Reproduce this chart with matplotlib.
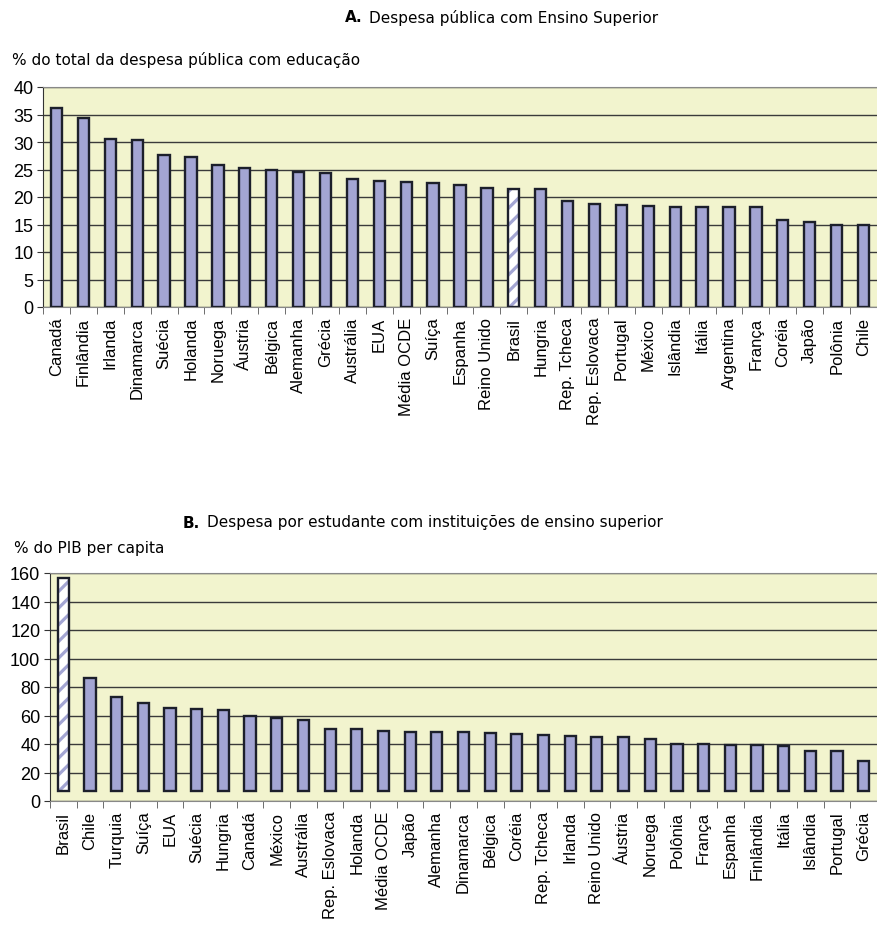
import numpy as np
import matplotlib.pyplot as plt
from matplotlib.ticker import FixedLocator

# Painel A
paises_a = ["Canadá", "Finlândia", "Irlanda", "Dinamarca", "Suécia", "Holanda", "Noruega",
            "Áustria", "Bélgica", "Alemanha", "Grécia", "Austrália", "EUA", "Média OCDE",
            "Suíça", "Espanha", "Reino Unido", "Brasil", "Hungria", "Rep. Tcheca",
            "Rep. Eslovaca", "Portugal", "México", "Islândia", "Itália", "Argentina",
            "França", "Coréia", "Japão", "Polônia", "Chile"]
valores_a = [36.1, 34.4, 30.6, 30.4, 27.6, 27.3, 25.8, 25.3, 25.0, 24.5, 24.4, 23.3, 22.9,
             22.8, 22.6, 22.2, 21.6, 21.5, 21.4, 19.3, 18.7, 18.5, 18.4, 18.2, 18.2, 18.1,
             18.1, 15.8, 15.5, 15.0, 15.0]

# Painel B
paises_b = ["Brasil", "Chile", "Turquia", "Suíça", "EUA", "Suécia", "Hungria", "Canadá",
            "México", "Austrália", "Rep. Eslovaca", "Holanda", "Média OCDE", "Japão",
            "Alemanha", "Dinamarca", "Bélgica", "Coréia", "Rep. Tcheca", "Irlanda",
            "Reino Unido", "Áustria", "Noruega", "Polônia", "França", "Espanha",
            "Finlândia", "Itália", "Islândia", "Portugal", "Grécia"]
valores_b = [156.3, 86.0, 73.1, 68.9, 65.4, 64.3, 64.0, 59.8, 57.9, 56.8, 50.5, 50.2, 48.8,
             48.6, 48.3, 48.3, 47.4, 46.7, 46.0, 45.6, 45.1, 44.9, 43.2, 40.2, 40.0, 39.3,
             39.0, 38.6, 34.8, 34.8, 27.8]

fundo = "#F2F4CE"
barra = "#A3A5D3"
borda = "#1C1F2B"
plt.rcParams['hatch.linewidth'] = 2.3

fig = plt.figure(figsize=(8.77, 9.28), dpi=100)


def painel(ax, nomes, valores, ymax, passo, base):
    x = np.arange(len(nomes))
    v = np.array(valores)
    ax.set_facecolor(fundo)
    for i, n in enumerate(nomes):
        if n == "Brasil":
            ax.bar(x[i], v[i] - base, bottom=base, width=0.42, color="white",
                   edgecolor=barra, hatch="//", linewidth=0, zorder=3)
            ax.bar(x[i], v[i] - base, bottom=base, width=0.42, color="none",
                   edgecolor=borda, linewidth=1.7, zorder=4)
        else:
            ax.bar(x[i], v[i] - base, bottom=base, width=0.42, color=barra,
                   edgecolor=borda, linewidth=1.7, zorder=3)
    ax.set_xlim(-0.5, len(nomes) - 0.5)
    ax.set_ylim(0, ymax)
    ax.set_yticks(np.arange(0, ymax + 1, passo))
    ax.yaxis.grid(True, color="#3a3a3a", linewidth=1.0, zorder=0)
    ax.set_axisbelow(True)
    ax.set_xticks(x)
    ax.set_xticklabels(nomes, rotation=90, fontsize=12, family="Liberation Sans")
    ax.tick_params(axis="x", which="major", length=0, pad=7)
    ax.xaxis.set_minor_locator(FixedLocator(np.arange(-0.5, len(nomes), 1)))
    ax.tick_params(axis="x", which="minor", length=5, color="#555555", direction="out")
    ax.tick_params(axis="y", length=4, color="#333333", labelsize=13, pad=3)
    for lab in ax.get_yticklabels():
        lab.set_family("Liberation Sans")
    ax.spines["right"].set_visible(False)
    ax.spines["top"].set_color("#888888")
    ax.spines["left"].set_color("#333333")
    ax.spines["bottom"].set_color("#888888")


ax1 = fig.add_axes([43 / 877, 1 - 308 / 928, 1 - 43 / 877, 220 / 928])
painel(ax1, paises_a, valores_a, 40, 5, 0)

ax2 = fig.add_axes([50 / 877, 1 - 802 / 928, 1 - 50 / 877, 228 / 928])
painel(ax2, paises_b, valores_b, 160, 20, 6.8)

fs_t = 11
fig.text(345 / 877, 1 - 18 / 928, "A.", ha="left", va="center", fontsize=fs_t,
         fontweight="bold", family="DejaVu Sans")
fig.text(369 / 877, 1 - 18 / 928, "Despesa pública com Ensino Superior", ha="left",
         va="center", fontsize=fs_t, family="DejaVu Sans")
fig.text(12 / 877, 1 - 60 / 928, "% do total da despesa pública com educação", ha="left",
         va="center", fontsize=fs_t, family="DejaVu Sans")

fig.text(183 / 877, 1 - 523 / 928, "B.", ha="left", va="center", fontsize=fs_t,
         fontweight="bold", family="DejaVu Sans")
fig.text(207 / 877, 1 - 523 / 928, "Despesa por estudante com instituições de ensino superior",
         ha="left", va="center", fontsize=fs_t, family="DejaVu Sans")
fig.text(14 / 877, 1 - 549 / 928, "% do PIB per capita", ha="left", va="center",
         fontsize=fs_t, family="DejaVu Sans")

fig.savefig("out.png", dpi=100, facecolor="white")
